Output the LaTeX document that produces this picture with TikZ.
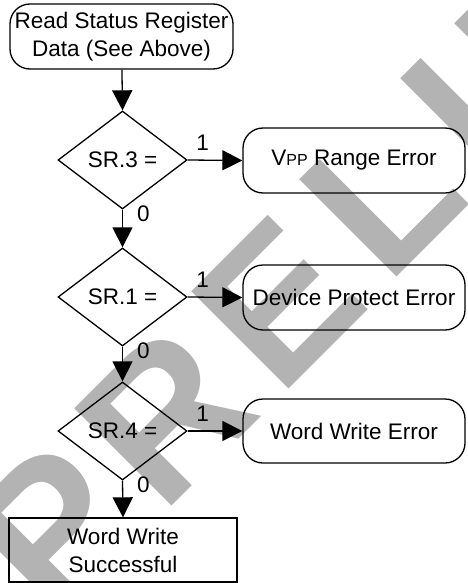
\documentclass[tikz,border=0pt]{standalone}
\usepackage{fontspec}
\setmainfont{Liberation Sans}
\usetikzlibrary{shapes.geometric,arrows.meta}
\definecolor{wm}{RGB}{179,179,179}
\begin{document}
\begin{tikzpicture}[x=1pt,y=-1pt,
  wmletter/.style={anchor=base west,inner sep=0pt,outer sep=0pt,text=wm,rotate=45,
    font=\bfseries\fontsize{200}{200}\selectfont},
  txt/.style={font=\fontsize{22.5}{28}\selectfont},
  term/.style={draw,line width=1.3pt,rounded corners=20pt,txt,align=center,inner sep=0pt},
  decision/.style={draw,line width=1.3pt,diamond,inner sep=0pt,minimum width=129pt,minimum height=98pt,txt},
  endbox/.style={draw,line width=1.3pt,txt,align=center,inner sep=0pt,minimum width=228pt,minimum height=64pt},
  flow/.style={line width=1.3pt,-{Triangle[length=20pt,width=20pt]}},
  lbl/.style={txt,inner sep=0pt}
]
\useasboundingbox (0,0) rectangle (467,583);
\begin{scope}
\clip (0,0) rectangle (467,583);
\node[wmletter] (wP) at (53,624) {P};
\node[wmletter] (wR) at (162,515) {R};
\node[wmletter] (wE) at (279,398) {E};
\node[wmletter] (wL) at (387,286) {L};
\node[wmletter] (wI) at (488,185) {I};
\node[wmletter] (wM) at (542,131) {M};
\end{scope}

\node[term,minimum width=223pt,minimum height=65pt] (read) at (121.5,36.5) {Read Status Register\\Data (See Above)};
\node[decision] (d3) at (122.5,160) {SR.3 =};
\node[decision] (d1) at (122.5,297) {SR.1 =};
\node[decision] (d4) at (122.5,431) {SR.4 =};
\node[term,minimum width=222pt,minimum height=65pt] (vpp) at (354,160.5) {V{\fontsize{16}{16}\selectfont PP} Range Error};
\node[term,minimum width=222pt,minimum height=65pt] (dpe) at (354,297.5) {Device Protect Error};
\node[term,minimum width=222pt,minimum height=64pt] (wwe) at (354,431) {Word Write Error};
\node[endbox] (ok) at (123,550) {Word Write\\Successful};

\draw[flow] (read) -- (d3.north);
\draw[flow] (d3.east) -- (vpp.west);
\draw[flow] (d3.south) -- (d1.north);
\draw[flow] (d1.east) -- (dpe.west);
\draw[flow] (d1.south) -- (d4.north);
\draw[flow] (d4.east) -- (wwe.west);
\draw[flow] (d4.south) -- (ok.north);

\node[lbl] (l31) at ([shift={(15,-17)}]d3.east) {1};
\node[lbl] (l11) at ([shift={(15,-17)}]d1.east) {1};
\node[lbl] (l41) at ([shift={(15,-17)}]d4.east) {1};
\node[lbl] (l30) at ([shift={(21,4)}]d3.south) {0};
\node[lbl] (l10) at ([shift={(21,4)}]d1.south) {0};
\node[lbl] (l40) at ([shift={(21,4)}]d4.south) {0};
\end{tikzpicture}
\end{document}
